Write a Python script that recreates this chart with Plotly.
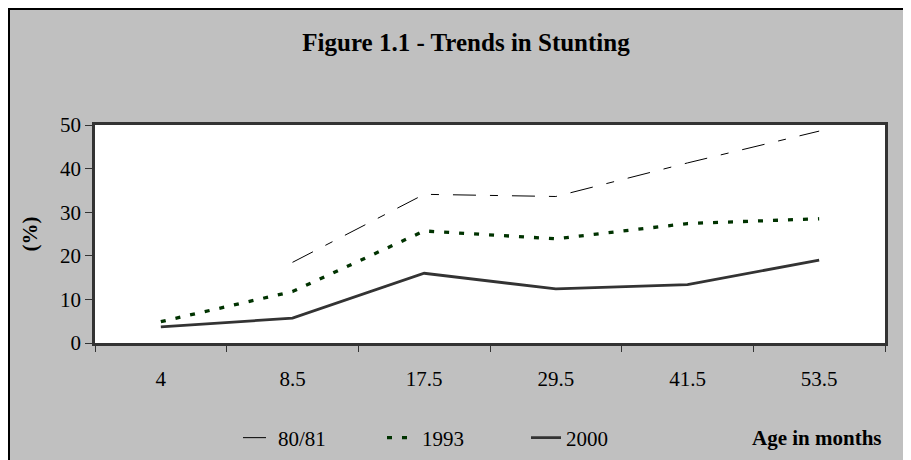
import plotly.graph_objects as go

categories = ["4", "8.5", "17.5", "29.5", "41.5", "53.5"]
s_8081 = [None, 18.5, 34.1, 33.6, 41.3, 48.6]
s_1993 = [4.9, 11.8, 25.7, 23.9, 27.4, 28.5]
s_2000 = [3.7, 5.7, 16.0, 12.4, 13.4, 19.0]
y_ticks = [0, 10, 20, 30, 40, 50]

FONT = "Liberation Serif"
OFF = 8  # page body margin: figure starts at (8, 8) in the window
W, H = 911 - OFF, 460 - OFF
L, R, T, B = 95 - OFF, 885 - OFF, 125 - OFF, 343 - OFF  # plot area in figure px


def px(x):
    """reference window x -> paper x"""
    return (x - OFF - L) / (R - L)


def py(y):
    """reference window y -> paper y"""
    return (B - (y - OFF)) / (B - T)


fig = go.Figure()
fig.add_trace(go.Scatter(x=categories, y=s_8081, name="80/81", mode="lines",
                         line=dict(color="#000000", width=1, dash="23px,14px,8px,14px")))
fig.add_trace(go.Scatter(x=categories, y=s_1993, name="1993", mode="lines",
                         line=dict(color="#003300", width=3.3, dash="5px,10px")))
fig.add_trace(go.Scatter(x=categories, y=s_2000, name="2000", mode="lines",
                         line=dict(color="#333333", width=2.8)))

shapes = [
    # white strip at right edge
    dict(type="rect", xref="paper", yref="paper", x0=px(906), x1=px(930), y0=py(480), y1=py(-10),
         fillcolor="white", line=dict(width=0), layer="below"),
    # black border lines (left and top)
    dict(type="line", xref="paper", yref="paper", x0=px(9), x1=px(9), y0=py(480), y1=py(8),
         line=dict(color="#000000", width=2), layer="below"),
    dict(type="line", xref="paper", yref="paper", x0=px(8), x1=px(906), y0=py(9), y1=py(9),
         line=dict(color="#000000", width=2), layer="below"),
]

fig.update_layout(
    width=W, height=H,
    margin=dict(l=L, r=W - R, t=T, b=H - B, pad=0, autoexpand=False),
    paper_bgcolor="#C0C0C0",
    plot_bgcolor="#FFFFFF",
    font=dict(family=FONT, color="#000000", size=21),
    title=dict(text="<b>Figure 1.1 - Trends in Stunting</b>", x=(466 - OFF) / W, xanchor="center",
               y=1 - (42 - OFF) / H, yanchor="middle",
               font=dict(family=FONT, size=25, color="#000000")),
    showlegend=True,
    legend=dict(orientation="h", xref="container", yref="container",
                x=(238 - OFF) / W, xanchor="left", y=1 - (438 - OFF) / H, yanchor="middle",
                bgcolor="rgba(0,0,0,0)", font=dict(family=FONT, size=21),
                entrywidth=99, entrywidthmode="pixels", itemwidth=30,
                tracegroupgap=0),
    xaxis=dict(type="category", range=[-0.5, 5.5], showgrid=False, zeroline=False,
               showline=True, linecolor="#333333", linewidth=2.5, mirror=True,
               ticks="outside", tickson="boundaries", ticklen=6, tickwidth=1, tickcolor="#333333",
               tickfont=dict(family=FONT, size=21), ticklabelstandoff=15, automargin=False),
    yaxis=dict(range=[0, 50], tickvals=y_ticks, showgrid=False, zeroline=False,
               showline=True, linecolor="#333333", linewidth=2.5, mirror=True,
               ticks="outside", ticklen=7, tickwidth=1, tickcolor="#333333",
               tickfont=dict(family=FONT, size=21), automargin=False,
               title=dict(text="<b>(%)</b>", font=dict(family=FONT, size=21), standoff=17)),
    shapes=shapes,
    annotations=[dict(text="<b>Age in months</b>", xref="paper", yref="paper",
                      x=px(750), xanchor="left", y=py(438), yanchor="middle",
                      showarrow=False, font=dict(family=FONT, size=21, color="#000000"))],
)

fig.write_html("out.html")
